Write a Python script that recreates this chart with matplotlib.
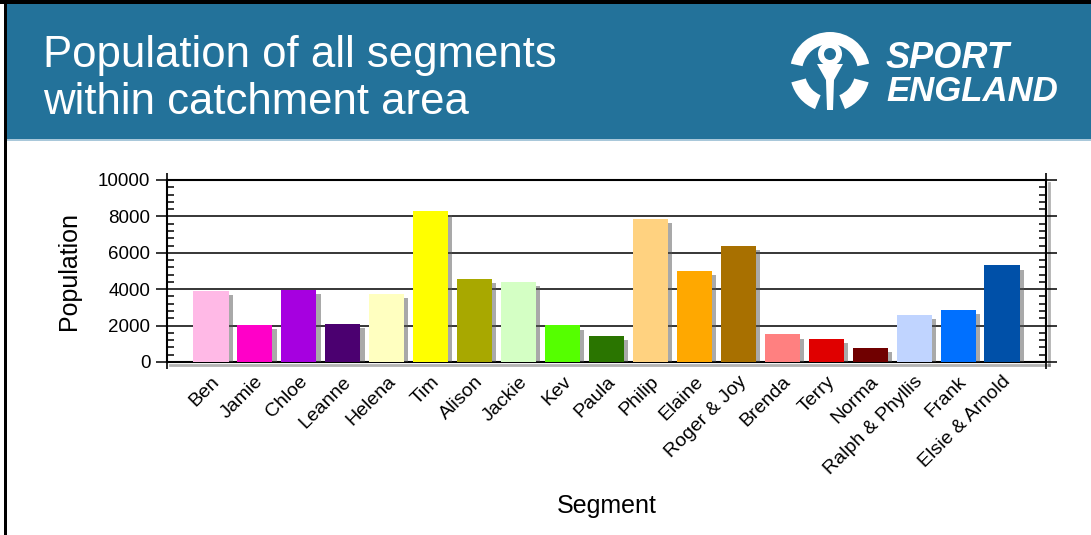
import matplotlib
matplotlib.use("Agg")
import matplotlib.pyplot as plt
from matplotlib.patches import Rectangle, Circle, Wedge, Polygon
from matplotlib.ticker import MultipleLocator, FixedLocator
import matplotlib.patheffects as pe

plt.rcParams['font.family'] = ['Liberation Sans', 'DejaVu Sans']

segments = ["Ben", "Jamie", "Chloe", "Leanne", "Helena", "Tim", "Alison", "Jackie",
            "Kev", "Paula", "Philip", "Elaine", "Roger & Joy", "Brenda", "Terry",
            "Norma", "Ralph & Phyllis", "Frank", "Elsie & Arnold"]
population = [3920, 2020, 3950, 2100, 3730, 8300, 4560, 4400, 2010, 1430,
              7860, 5000, 6370, 1520, 1260, 770, 2580, 2840, 5310]
bar_colors = ["#FFB9E6", "#FF00C8", "#A600E0", "#4B0070", "#FFFFC0", "#FFFF00",
              "#A8A800", "#D4FFC4", "#55FF00", "#2A7500", "#FFD280", "#FFA800",
              "#A87000", "#FF8080", "#E00000", "#700000", "#C0D4FF", "#0070FF",
              "#0050A8"]
y_ticks = [0, 2000, 4000, 6000, 8000, 10000]

W, H = 1091, 535
fig = plt.figure(figsize=(W / 100, H / 100), dpi=100)

# header / frame drawn in pixel coordinates
bg = fig.add_axes([0, 0, 1, 1])
bg.set_xlim(0, W)
bg.set_ylim(H, 0)
bg.axis("off")
blue = "#23729A"
bg.add_patch(Rectangle((7, 4), W - 7, 135, color=blue, lw=0))
bg.add_patch(Rectangle((7, 139), W - 7, 2, color="#A9C8DA", lw=0))
bg.add_patch(Rectangle((0, 0), W, 4, color="black", lw=0))
bg.add_patch(Rectangle((4, 0), 3, H, color="black", lw=0))

bg.text(43, 67, "Population of all segments", color="white", fontsize=31.5,
        va="baseline", ha="left")
bg.text(43, 114, "within catchment area", color="white", fontsize=31.5,
        va="baseline", ha="left")

# logo
cx, cy = 830, 72
bg.add_patch(Wedge((cx, cy), 40, 192, 348, width=12, color="white", lw=0))
bg.add_patch(Wedge((cx, cy), 40, 112, 165, width=15, color="white", lw=0))
bg.add_patch(Wedge((cx, cy), 40, 15, 68, width=15, color="white", lw=0))
bg.add_patch(Polygon([(817, 64), (843, 64), (834, 80), (833, 110), (827, 110),
                      (826, 80)], closed=True, color="white", lw=0))
bg.add_patch(Circle((cx, 54), 12, color="white", lw=0))
bg.add_patch(Circle((cx, 54), 6, color=blue, lw=0))
bg.text(886, 68, "SPORT", color="white", fontsize=26, fontweight="bold",
        fontstyle="italic", va="baseline", ha="left")
bg.text(886, 101, "ENGLAND", color="white", fontsize=25, fontweight="bold",
        fontstyle="italic", va="baseline", ha="left")

# chart
ax = fig.add_axes([167 / W, 1 - 362 / H, (1046 - 167) / W, (362 - 180) / H])
ax.set_facecolor("none")
x = list(range(len(segments)))
shadow = [pe.SimplePatchShadow(offset=(3, -3), shadow_rgbFace="#555555", alpha=0.5),
          pe.Normal()]
bars = ax.bar(x, population, width=0.8, color=bar_colors, zorder=3)
for b in bars:
    b.set_path_effects(shadow)

ax.set_xlim(-1, len(segments))
ax.set_ylim(0, 10000)
ax.set_yticks(y_ticks)
ax.yaxis.set_minor_locator(MultipleLocator(400))
ax.grid(axis="y", color="black", lw=1.1, zorder=1)
ax.set_axisbelow(True)

ax.xaxis.set_major_locator(FixedLocator(x))
ax.set_xticklabels(segments, rotation=45, ha="right", va="top",
                   rotation_mode="anchor", fontsize=14)
ax.tick_params(axis="x", which="major", length=0, pad=8)
ax.xaxis.set_minor_locator(FixedLocator([-1, 4, 9, 14, 19]))
ax.tick_params(axis="x", which="minor", direction="out", length=5, width=1.2,
               top=True, bottom=True)

ax.tick_params(axis="y", which="major", direction="out", length=8, width=1.1,
               labelsize=13.5, right=True, pad=4)
ax.tick_params(axis="y", which="minor", direction="in", length=5, width=1.1,
               right=True)

for s in ax.spines.values():
    s.set_linewidth(1.5)
for name in ("bottom", "right"):
    ax.spines[name].set_path_effects(
        [pe.SimpleLineShadow(offset=(2.5, -2.5), shadow_color="black", alpha=0.3,
                             linewidth=2), pe.Normal()])

ax.set_ylabel("Population", fontsize=18, labelpad=12)
ax.set_xlabel("Segment", fontsize=18)
ax.xaxis.set_label_coords(0.5, -0.725)

fig.savefig("out.png", dpi=100)
